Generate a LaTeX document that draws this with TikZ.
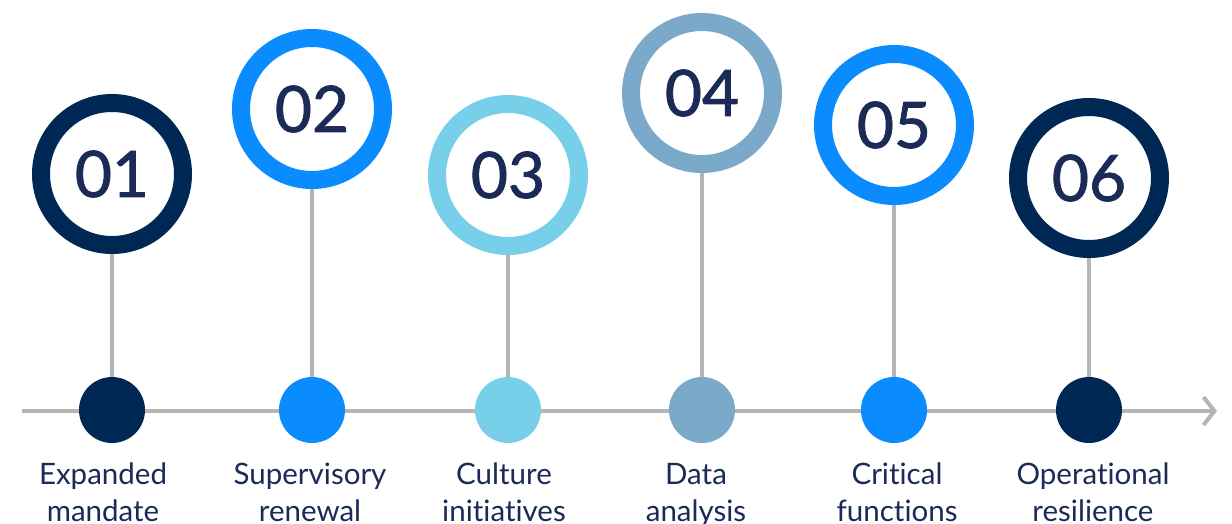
\documentclass[tikz,border=0pt]{standalone}
\usepackage{fontspec}
\setmainfont{Lato}[Ligatures=NoCommon]
\newfontfamily\numfont{Lato}[FakeBold=1.3]
\usetikzlibrary{arrows.meta}
\definecolor{navy}{HTML}{002855}
\definecolor{bblue}{HTML}{0A8CFF}
\definecolor{lblue}{HTML}{78CFEA}
\definecolor{sblue}{HTML}{7BA9CA}
\definecolor{txt}{HTML}{1B2A57}
\definecolor{grayline}{HTML}{B5B5B5}
\tikzset{
  ring/.style={circle, draw=#1, line width=18pt, fill=white, minimum size=142pt, inner sep=0pt,
     font=\numfont\fontsize{64}{64}\selectfont, text=txt},
  dot/.style={circle, fill=#1, minimum size=66pt, inner sep=0pt},
  stem/.style={draw=grayline, line width=4pt},
  lab/.style={align=center, anchor=north, font=\fontsize{29.5}{37}\selectfont, text=txt, inner sep=0pt}
}
\begin{document}
\begin{tikzpicture}[x=1pt,y=-1pt]
\useasboundingbox (0,0) rectangle (1232,523);
\coordinate (s) at (22,411);
\coordinate (e) at (1217,411);
\draw[stem, -{Straight Barb[length=11pt,width=28pt,line width=4pt]}] (s) -- (e);
\foreach \i/\x/\y/\c/\lx/\t in {1/112/174/navy/103/{Expanded\\mandate},
  2/312/109/bblue/310/{Supervisory\\renewal},
  3/508/175/lblue/504/{Culture\\initiatives},
  4/702/93/sblue/696/{Data\\analysis},
  5/894/125/bblue/897/{Critical\\functions},
  6/1089/178/navy/1093/{Operational\\resilience}}{
  \node[dot=\c] (d\i) at (\x,410) {};
  \path (\x,\y) coordinate (p\i);
  \draw[stem] (p\i) -- (d\i.north);
  \node[ring=\c] (c\i) at (p\i) {0\i};
  \node[lab] (l\i) at (\lx,463) {\t};
}
\end{tikzpicture}
\end{document}
